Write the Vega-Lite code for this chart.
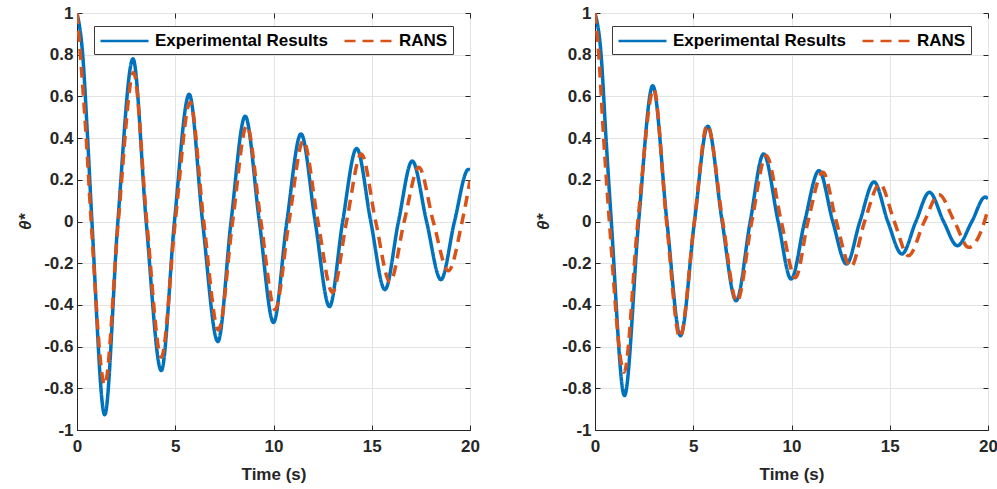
{
  "$schema": "https://vega.github.io/schema/vega-lite/v6.json",
  "background": "white",
  "padding": {"left": 16, "top": 3, "right": 0, "bottom": 0},
  "datasets": {
    "left": [
      {"s": "Experimental Results", "t": 0, "v": 1},
      {"s": "Experimental Results", "t": 0.29, "v": 0.8},
      {"s": "Experimental Results", "t": 0.54, "v": 0.4},
      {"s": "Experimental Results", "t": 0.76, "v": 0},
      {"s": "Experimental Results", "t": 1.41, "v": -0.927},
      {"s": "Experimental Results", "t": 2.08, "v": 0},
      {"s": "Experimental Results", "t": 2.85, "v": 0.78},
      {"s": "Experimental Results", "t": 3.52, "v": 0},
      {"s": "Experimental Results", "t": 4.29, "v": -0.715},
      {"s": "Experimental Results", "t": 4.96, "v": 0},
      {"s": "Experimental Results", "t": 5.71, "v": 0.61},
      {"s": "Experimental Results", "t": 6.39, "v": 0},
      {"s": "Experimental Results", "t": 7.17, "v": -0.576},
      {"s": "Experimental Results", "t": 7.84, "v": 0},
      {"s": "Experimental Results", "t": 8.56, "v": 0.505},
      {"s": "Experimental Results", "t": 9.28, "v": 0},
      {"s": "Experimental Results", "t": 10.0, "v": -0.484},
      {"s": "Experimental Results", "t": 10.68, "v": 0},
      {"s": "Experimental Results", "t": 11.4, "v": 0.42},
      {"s": "Experimental Results", "t": 12.12, "v": 0},
      {"s": "Experimental Results", "t": 12.85, "v": -0.408},
      {"s": "Experimental Results", "t": 13.52, "v": 0},
      {"s": "Experimental Results", "t": 14.23, "v": 0.35},
      {"s": "Experimental Results", "t": 14.95, "v": 0},
      {"s": "Experimental Results", "t": 15.67, "v": -0.327},
      {"s": "Experimental Results", "t": 16.36, "v": 0},
      {"s": "Experimental Results", "t": 17.06, "v": 0.29},
      {"s": "Experimental Results", "t": 17.79, "v": 0},
      {"s": "Experimental Results", "t": 18.52, "v": -0.279},
      {"s": "Experimental Results", "t": 19.21, "v": 0},
      {"s": "Experimental Results", "t": 19.92, "v": 0.25},
      {"s": "Experimental Results", "t": 20, "v": 0.248},
      {"s": "RANS", "t": 0, "v": 1},
      {"s": "RANS", "t": 0.17, "v": 0.8},
      {"s": "RANS", "t": 0.47, "v": 0.4},
      {"s": "RANS", "t": 0.72, "v": 0},
      {"s": "RANS", "t": 1.41, "v": -0.783},
      {"s": "RANS", "t": 2.1, "v": 0},
      {"s": "RANS", "t": 2.88, "v": 0.715},
      {"s": "RANS", "t": 3.55, "v": 0},
      {"s": "RANS", "t": 4.29, "v": -0.651},
      {"s": "RANS", "t": 5.0, "v": 0},
      {"s": "RANS", "t": 5.76, "v": 0.572},
      {"s": "RANS", "t": 6.45, "v": 0},
      {"s": "RANS", "t": 7.2, "v": -0.52},
      {"s": "RANS", "t": 7.92, "v": 0},
      {"s": "RANS", "t": 8.64, "v": 0.46},
      {"s": "RANS", "t": 9.36, "v": 0},
      {"s": "RANS", "t": 10.08, "v": -0.423},
      {"s": "RANS", "t": 10.79, "v": 0},
      {"s": "RANS", "t": 11.52, "v": 0.388},
      {"s": "RANS", "t": 12.26, "v": 0},
      {"s": "RANS", "t": 13.0, "v": -0.34},
      {"s": "RANS", "t": 13.72, "v": 0},
      {"s": "RANS", "t": 14.47, "v": 0.324},
      {"s": "RANS", "t": 15.2, "v": 0},
      {"s": "RANS", "t": 15.93, "v": -0.29},
      {"s": "RANS", "t": 16.65, "v": 0},
      {"s": "RANS", "t": 17.4, "v": 0.26},
      {"s": "RANS", "t": 18.13, "v": 0},
      {"s": "RANS", "t": 18.9, "v": -0.236},
      {"s": "RANS", "t": 19.6, "v": 0},
      {"s": "RANS", "t": 20, "v": 0.196}
    ],
    "right": [
      {"s": "Experimental Results", "t": 0, "v": 1},
      {"s": "Experimental Results", "t": 0.31, "v": 0.8},
      {"s": "Experimental Results", "t": 0.56, "v": 0.4},
      {"s": "Experimental Results", "t": 0.83, "v": 0},
      {"s": "Experimental Results", "t": 1.5, "v": -0.835},
      {"s": "Experimental Results", "t": 2.22, "v": 0},
      {"s": "Experimental Results", "t": 2.94, "v": 0.651},
      {"s": "Experimental Results", "t": 3.66, "v": 0},
      {"s": "Experimental Results", "t": 4.35, "v": -0.548},
      {"s": "Experimental Results", "t": 5.06, "v": 0},
      {"s": "Experimental Results", "t": 5.74, "v": 0.457},
      {"s": "Experimental Results", "t": 6.47, "v": 0},
      {"s": "Experimental Results", "t": 7.18, "v": -0.38},
      {"s": "Experimental Results", "t": 7.9, "v": 0},
      {"s": "Experimental Results", "t": 8.58, "v": 0.324},
      {"s": "Experimental Results", "t": 9.32, "v": 0},
      {"s": "Experimental Results", "t": 9.98, "v": -0.276},
      {"s": "Experimental Results", "t": 10.67, "v": 0},
      {"s": "Experimental Results", "t": 11.4, "v": 0.244},
      {"s": "Experimental Results", "t": 12.1, "v": 0},
      {"s": "Experimental Results", "t": 12.8, "v": -0.204},
      {"s": "Experimental Results", "t": 13.48, "v": 0},
      {"s": "Experimental Results", "t": 14.2, "v": 0.19},
      {"s": "Experimental Results", "t": 14.9, "v": 0},
      {"s": "Experimental Results", "t": 15.62, "v": -0.156},
      {"s": "Experimental Results", "t": 16.33, "v": 0},
      {"s": "Experimental Results", "t": 17.02, "v": 0.14},
      {"s": "Experimental Results", "t": 17.74, "v": 0},
      {"s": "Experimental Results", "t": 18.44, "v": -0.116},
      {"s": "Experimental Results", "t": 19.18, "v": 0},
      {"s": "Experimental Results", "t": 19.85, "v": 0.117},
      {"s": "Experimental Results", "t": 20, "v": 0.11},
      {"s": "RANS", "t": 0, "v": 1},
      {"s": "RANS", "t": 0.19, "v": 0.8},
      {"s": "RANS", "t": 0.44, "v": 0.4},
      {"s": "RANS", "t": 0.73, "v": 0},
      {"s": "RANS", "t": 1.48, "v": -0.723},
      {"s": "RANS", "t": 2.18, "v": 0},
      {"s": "RANS", "t": 2.99, "v": 0.635},
      {"s": "RANS", "t": 3.64, "v": 0},
      {"s": "RANS", "t": 4.32, "v": -0.556},
      {"s": "RANS", "t": 5.06, "v": 0},
      {"s": "RANS", "t": 5.71, "v": 0.463},
      {"s": "RANS", "t": 6.5, "v": 0},
      {"s": "RANS", "t": 7.22, "v": -0.385},
      {"s": "RANS", "t": 7.98, "v": 0},
      {"s": "RANS", "t": 8.71, "v": 0.316},
      {"s": "RANS", "t": 9.48, "v": 0},
      {"s": "RANS", "t": 10.2, "v": -0.27},
      {"s": "RANS", "t": 10.84, "v": 0},
      {"s": "RANS", "t": 11.6, "v": 0.236},
      {"s": "RANS", "t": 12.28, "v": 0},
      {"s": "RANS", "t": 13.02, "v": -0.218},
      {"s": "RANS", "t": 13.72, "v": 0},
      {"s": "RANS", "t": 14.5, "v": 0.18},
      {"s": "RANS", "t": 15.23, "v": 0},
      {"s": "RANS", "t": 15.95, "v": -0.164},
      {"s": "RANS", "t": 16.76, "v": 0},
      {"s": "RANS", "t": 17.5, "v": 0.13},
      {"s": "RANS", "t": 18.29, "v": 0},
      {"s": "RANS", "t": 19.02, "v": -0.124},
      {"s": "RANS", "t": 19.82, "v": 0},
      {"s": "RANS", "t": 20, "v": 0.06}
    ]
  },
  "config": {
    "font": "Liberation Sans",
    "view": {"stroke": "#262626", "strokeWidth": 1},
    "axis": {
      "labelFont": "Liberation Sans",
      "labelFontWeight": "bold",
      "labelFontSize": 17,
      "labelColor": "#262626",
      "labelFlush": false,
      "titleFont": "Liberation Sans",
      "titleFontWeight": "bold",
      "titleFontSize": 17,
      "titleColor": "#262626",
      "domainColor": "#262626",
      "tickColor": "#262626",
      "tickSize": -5,
      "gridColor": "#e3e3e3",
      "gridWidth": 1
    },
    "legend": {
      "orient": "none",
      "legendX": 17,
      "legendY": 13,
      "direction": "horizontal",
      "title": null,
      "fillColor": "white",
      "strokeColor": "#3c3c3c",
      "padding": 5,
      "labelFont": "Liberation Sans",
      "labelFontWeight": "bold",
      "labelFontSize": 17,
      "labelColor": "black",
      "labelLimit": 400,
      "labelOffset": 36,
      "columnPadding": 11,
      "symbolType": "M-1,0H4.65",
      "symbolSize": 289,
      "symbolStrokeWidth": 2.5
    }
  },
  "resolve": {"legend": {"color": "independent", "strokeDash": "independent"}},
  "spacing": 54,
  "hconcat": [
    {
      "width": 393,
      "height": 417,
      "data": {"name": "left"},
      "layer": [
        {
          "mark": {"type": "line", "interpolate": "monotone", "strokeWidth": 3.5, "clip": true},
          "encoding": {
            "x": {"field": "t", "type": "quantitative", "scale": {"domain": [0, 20], "nice": false},
                  "axis": {"title": "Time (s)", "values": [0, 5, 10, 15, 20], "labelPadding": 13, "titlePadding": 12}},
            "y": {"field": "v", "type": "quantitative", "scale": {"domain": [-1, 1], "nice": false},
                  "axis": {"title": "θ*", "titleFontStyle": "italic", "values": [-1, -0.8, -0.6, -0.4, -0.2, 0, 0.2, 0.4, 0.6, 0.8, 1],
                           "labelExpr": "toString(round(datum.value*10)/10)", "labelPadding": 9, "titlePadding": 9}},
            "color": {"field": "s", "type": "nominal", "scale": {"range": ["#0072BD", "#D95319"]}},
            "strokeDash": {"field": "s", "type": "nominal", "scale": {"range": [[1, 0], [11, 7]]}}
          }
        },
        {
          "mark": {"type": "line", "opacity": 0},
          "encoding": {
            "x": {"field": "t", "type": "quantitative", "axis": {"orient": "top", "labels": false, "title": null, "grid": false, "domain": false, "values": [0, 5, 10, 15, 20]}},
            "y": {"field": "v", "type": "quantitative", "axis": {"orient": "right", "labels": false, "title": null, "grid": false, "domain": false, "values": [-1, -0.8, -0.6, -0.4, -0.2, 0, 0.2, 0.4, 0.6, 0.8, 1]}}
          }
        }
      ],
      "resolve": {"axis": {"x": "independent", "y": "independent"}}
    },
    {
      "width": 393,
      "height": 417,
      "data": {"name": "right"},
      "layer": [
        {
          "mark": {"type": "line", "interpolate": "monotone", "strokeWidth": 3.5, "clip": true},
          "encoding": {
            "x": {"field": "t", "type": "quantitative", "scale": {"domain": [0, 20], "nice": false},
                  "axis": {"title": "Time (s)", "values": [0, 5, 10, 15, 20], "labelPadding": 13, "titlePadding": 12}},
            "y": {"field": "v", "type": "quantitative", "scale": {"domain": [-1, 1], "nice": false},
                  "axis": {"title": "θ*", "titleFontStyle": "italic", "values": [-1, -0.8, -0.6, -0.4, -0.2, 0, 0.2, 0.4, 0.6, 0.8, 1],
                           "labelExpr": "toString(round(datum.value*10)/10)", "labelPadding": 9, "titlePadding": 9}},
            "color": {"field": "s", "type": "nominal", "scale": {"range": ["#0072BD", "#D95319"]}},
            "strokeDash": {"field": "s", "type": "nominal", "scale": {"range": [[1, 0], [11, 7]]}}
          }
        },
        {
          "mark": {"type": "line", "opacity": 0},
          "encoding": {
            "x": {"field": "t", "type": "quantitative", "axis": {"orient": "top", "labels": false, "title": null, "grid": false, "domain": false, "values": [0, 5, 10, 15, 20]}},
            "y": {"field": "v", "type": "quantitative", "axis": {"orient": "right", "labels": false, "title": null, "grid": false, "domain": false, "values": [-1, -0.8, -0.6, -0.4, -0.2, 0, 0.2, 0.4, 0.6, 0.8, 1]}}
          }
        }
      ],
      "resolve": {"axis": {"x": "independent", "y": "independent"}}
    }
  ]
}
